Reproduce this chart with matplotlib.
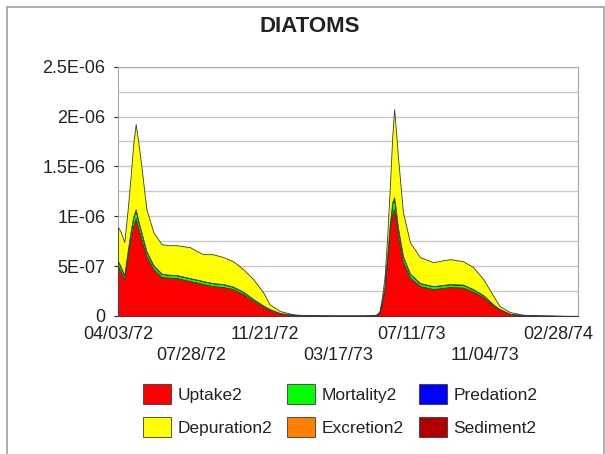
import matplotlib
matplotlib.use("Agg")
import matplotlib.pyplot as plt
import matplotlib.dates as mdates
from matplotlib.patches import Rectangle
from matplotlib.ticker import FixedLocator, FixedFormatter
import pandas as pd
import numpy as np

plt.rcParams['font.family'] = ['Liberation Sans', 'DejaVu Sans']

# ---- data (values in units of 1e-6) ----
start_date = "1972-04-03"
days = [0, 4, 10, 15, 20, 24, 28, 32, 37, 45, 56, 69, 80, 93, 114, 125, 135, 150,
        167, 182, 198, 214, 230, 240, 256, 277, 304, 340, 380, 404, 410, 414, 418,
        422, 426, 430, 434, 437, 440, 443, 451, 462, 478, 499, 525, 546, 562, 578,
        594, 604, 620, 641, 668, 700, 728]
uptake2 = [0.50, 0.45, 0.37, 0.58, 0.77, 0.90, 0.98, 0.88, 0.77, 0.60, 0.47, 0.39,
           0.385, 0.38, 0.35, 0.335, 0.32, 0.30, 0.29, 0.27, 0.22, 0.15, 0.09, 0.06,
           0.025, 0.01, 0.003, 0.002, 0.002, 0.003, 0.01, 0.035, 0.13, 0.27, 0.55,
           0.84, 1.03, 1.07, 0.95, 0.80, 0.54, 0.385, 0.30, 0.27, 0.29, 0.285, 0.245,
           0.19, 0.10, 0.06, 0.02, 0.006, 0.002, 0.001, 0.0005]
mortality2 = [0.05, 0.05, 0.04, 0.06, 0.08, 0.09, 0.09, 0.08, 0.07, 0.05, 0.04, 0.035,
              0.03, 0.03, 0.03, 0.03, 0.03, 0.03, 0.03, 0.025, 0.025, 0.02, 0.015, 0.01,
              0.005, 0.002, 0.0005, 0.0, 0.0, 0.0, 0.001, 0.003, 0.01, 0.03, 0.05,
              0.08, 0.11, 0.12, 0.10, 0.09, 0.06, 0.04, 0.03, 0.03, 0.03, 0.03, 0.025,
              0.02, 0.015, 0.01, 0.004, 0.001, 0.0, 0.0, 0.0]
depuration2 = [0.34, 0.35, 0.33, 0.41, 0.55, 0.73, 0.855, 0.79, 0.66, 0.42, 0.33, 0.295,
               0.295, 0.30, 0.31, 0.285, 0.27, 0.29, 0.27, 0.255, 0.225, 0.20, 0.13, 0.047,
               0.02, 0.005, 0.0015, 0.001, 0.001, 0.002, 0.009, 0.012, 0.06, 0.10, 0.20,
               0.35, 0.66, 0.885, 0.80, 0.71, 0.44, 0.315, 0.26, 0.24, 0.25, 0.235, 0.22,
               0.16, 0.085, 0.03, 0.016, 0.006, 0.002, 0.001, 0.0005]
predation2 = [0.0] * len(days)
excretion2 = [0.0] * len(days)
sediment2 = [0.0] * len(days)

xtick_labels = ["04/03/72", "07/28/72", "11/21/72", "03/17/73", "07/11/73", "11/04/73", "02/28/74"]
ytick_values = [0.0, 0.5, 1.0, 1.5, 2.0, 2.5]
ytick_labels = ["0", "5E-07", "1E-06", "1.5E-06", "2E-06", "2.5E-06"]
title = "DIATOMS"

# ---- build ----
scale = 1e-6
t0 = pd.Timestamp(start_date)
dates = [t0 + pd.Timedelta(days=d) for d in days]
x = mdates.date2num(dates)

colors = {
    "Uptake2": "#FF0000",
    "Mortality2": "#00FF00",
    "Predation2": "#0000FF",
    "Excretion2": "#FF8000",
    "Sediment2": "#B00000",
    "Depuration2": "#FFFF00",
}
stack_names = ["Uptake2", "Mortality2", "Predation2", "Excretion2", "Sediment2", "Depuration2"]
stack_vals = [uptake2, mortality2, predation2, excretion2, sediment2, depuration2]

fig = plt.figure(figsize=(6.05, 4.54), dpi=100)
fig.patch.set_facecolor("white")
ax = fig.add_axes([118 / 605, 1 - 316 / 454, (578 - 118) / 605, (316 - 66.7) / 454])

polys = ax.stackplot(x, *[np.array(v) * scale for v in stack_vals],
                     colors=[colors[n] for n in stack_names],
                     edgecolor="#3a3a3a", linewidth=0.6, zorder=3)
handles = dict(zip(stack_names, polys))

xmin = mdates.date2num(t0)
xmax = mdates.date2num(t0 + pd.Timedelta(days=728))
ax.set_xlim(xmin, xmax)
ax.set_ylim(0, 2.5 * scale)

tick_dates = mdates.date2num([pd.to_datetime(s, format="%m/%d/%y") for s in xtick_labels])
ax.xaxis.set_major_locator(FixedLocator(tick_dates))
ax.xaxis.set_major_formatter(FixedFormatter(xtick_labels))
ax.yaxis.set_major_locator(FixedLocator([v * scale for v in ytick_values]))
ax.yaxis.set_major_formatter(FixedFormatter(ytick_labels))
ax.set_yticks([v * scale for v in np.arange(0, 2.51, 0.25)], minor=True)

ax.grid(True, which="both", axis="y", color="#c8c8c8", linewidth=1.0, zorder=0)
ax.set_axisbelow(True)

ax.tick_params(axis="x", length=0, pad=7.5, labelsize=13, colors="#222222")
ax.tick_params(axis="y", which="major", length=3, pad=6, labelsize=13, colors="#222222")
ax.tick_params(axis="y", which="minor", length=0)
for i, t in enumerate(ax.xaxis.get_major_ticks()):
    if i % 2 == 1:
        t.set_pad(22)

for side in ["left", "right", "top"]:
    ax.spines[side].set_color("#a8a8a8")
ax.spines["bottom"].set_color("#606060")

fig.text(310 / 605, 1 - 26 / 454, title, ha="center", va="center",
         fontsize=16, fontweight="bold", color="#222222")

order = ["Uptake2", "Depuration2", "Mortality2", "Excretion2", "Predation2", "Sediment2"]
fig.legend([handles[n] for n in order], order, ncol=3, frameon=False,
           loc="upper left", bbox_to_anchor=(143 / 605, 1 - 384 / 454),
           borderaxespad=0, borderpad=0, fontsize=12.5,
           handlelength=1.6, handleheight=1.38, handletextpad=0.4,
           columnspacing=0.85, labelspacing=0.75, labelcolor="#222222")

fig.add_artist(Rectangle((7 / 605, -0.01), (604 - 7) / 605, 1.01 - 7 / 454,
                         transform=fig.transFigure, fill=False,
                         edgecolor="#a0a0a0", linewidth=1.2))

fig.savefig("out.png", dpi=100)
